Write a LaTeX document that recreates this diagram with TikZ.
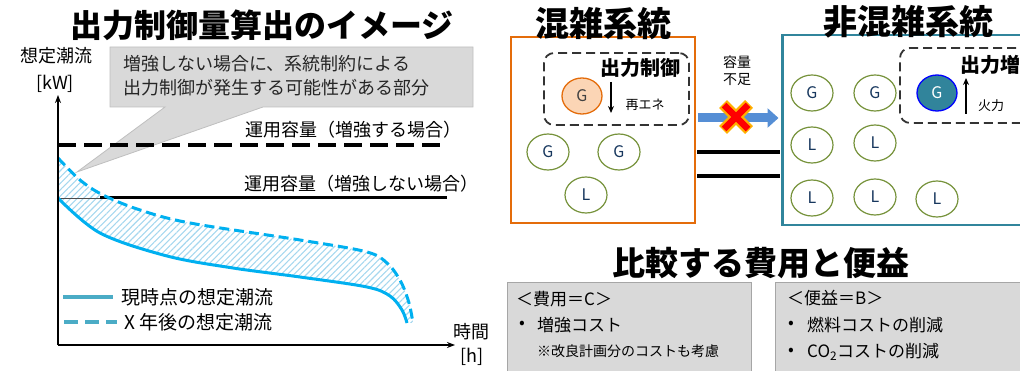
\documentclass[tikz,border=0pt]{standalone}
\usepackage{fontspec}
\setmainfont{Noto Sans CJK JP}
\usetikzlibrary{arrows.meta,patterns.meta,shapes.geometric}
\definecolor{curveblue}{RGB}{0,176,240}
\definecolor{legblue}{RGB}{75,172,198}
\definecolor{hatchblue}{RGB}{165,215,238}
\definecolor{calloutgray}{RGB}{217,217,217}
\definecolor{calloutedge}{RGB}{191,191,191}
\definecolor{orangeedge}{RGB}{228,108,10}
\definecolor{orangefill}{RGB}{251,213,181}
\definecolor{tealedge}{RGB}{49,133,156}
\definecolor{tealfill}{RGB}{49,132,155}
\definecolor{greenedge}{RGB}{119,147,60}
\definecolor{letter}{RGB}{23,55,94}
\definecolor{arrowblue}{RGB}{85,142,213}
\definecolor{boxgray}{RGB}{217,217,217}
\definecolor{boxedge}{RGB}{166,166,166}
\definecolor{glow}{RGB}{255,176,0}
\begin{document}
\begin{tikzpicture}[x=1pt,y=-1pt,
  txt/.style={inner sep=0pt, font=\fontsize{18}{20}\selectfont},
  smalltxt/.style={inner sep=0pt, font=\fontsize{13}{15}\selectfont},
  boxtxt/.style={inner sep=0pt, anchor=west, font=\fontsize{17}{19}\selectfont},
  ttl/.style={inner sep=0pt, font=\fontsize{33}{36}\selectfont\bfseries},
  subttl/.style={inner sep=0pt, font=\fontsize{20}{22}\selectfont\bfseries},
  unit/.style={ellipse, draw=greenedge, line width=1.2pt, fill=white, minimum width=42pt, minimum height=36pt, inner sep=0pt, text=letter, font=\fontsize{16}{16}\selectfont},
  dashbox/.style={draw=black!80, line width=1.8pt, dash pattern=on 9pt off 5pt, rounded corners=10pt},
  vline/.style={line width=1.4pt, -{Stealth[length=8pt,width=6pt]}},
]
\useasboundingbox (0,0) rectangle (1020,371);
\clip (0,0) rectangle (1020,371);

% ---------------- left: image of curtailment ----------------
\node[ttl, font=\fontsize{32}{36}\selectfont\bfseries] (t1) at (262,25) {出力制御量算出のイメージ};

% callout
\coordinate (tip) at (77,172);
\filldraw[fill=calloutgray, draw=calloutedge, line width=0.8pt]
  (110,47) -- (473,47) -- (473,107) -- (263,107) -- (tip) -- (165,107) -- (110,107) -- cycle;
\node[txt, anchor=west, text=black!85] (c1) at (123,64) {増強しない場合に、系統制約による};
\node[txt, anchor=west, text=black!85] (c2) at (123,88) {出力制御が発生する可能性がある部分};

% axis labels
\node[txt] (yl1) at (56,56) {想定潮流};
\node[txt] (yl2) at (55,84) {[kW]};
\node[txt] (xl1) at (471,332) {時間};
\node[txt] (xl2) at (472,357) {[h]};

% hatched region
\fill[pattern={Lines[angle=45,distance=4.5pt,line width=1.1pt]}, pattern color=hatchblue]
  plot[smooth, tension=0.55] coordinates {(58,158) (80,180) (103,195) (140,210) (190,223) (300,240) (367,252) (388,264) (401,282) (409,303) (413,323)}
  -- plot[smooth, tension=0.55] coordinates {(407,323) (402,310) (390,296) (367,287) (300,277) (233,268) (167,256) (100,233) (58,198)}
  -- cycle;

% capacity lines
\draw[line width=4pt, dash pattern=on 18pt off 8pt] (58,145) -- (445,145);
\node[txt] (cap1) at (353,130) {運用容量（増強する場合）};
\draw[black!70, line width=0.8pt] (58,198) -- (100,198);
\draw[line width=3pt] (100,198) -- (447,198);
\node[txt] (cap2) at (361,184) {運用容量（増強しない場合）};

% curves
\draw[curveblue, line width=3pt]
  plot[smooth, tension=0.55] coordinates {(58,198) (100,233) (167,256) (233,268) (300,277) (367,287) (390,296) (402,310) (407,323)};
\draw[curveblue, line width=3pt, dash pattern=on 10pt off 5pt]
  plot[smooth, tension=0.55] coordinates {(58,158) (80,180) (103,195) (140,210) (190,223) (300,240) (367,252) (388,264) (401,282) (409,303) (413,323)};

% axes
\coordinate (O) at (58,345);
\coordinate (ytop) at (58,95);
\coordinate (xend) at (455,345);
\draw[vline] (O) -- (ytop);
\draw[vline] (O) -- (xend);

% legend
\draw[legblue, line width=4pt] (63,297) -- (113,297);
\node[txt, anchor=west, font=\fontsize{19}{21}\selectfont] (lg1) at (121,297) {現時点の想定潮流};
\draw[legblue, line width=4.5pt, dash pattern=on 14pt off 7pt] (64,322) -- (117,322);
\node[txt, anchor=west, font=\fontsize{19}{21}\selectfont] (lg2) at (124,322) {X 年後の想定潮流};

% ---------------- right: systems ----------------
\node (cong) [draw=orangeedge, line width=2.5pt, minimum width=184pt, minimum height=186pt, inner sep=0pt] at (603,130) {};
\node (noncong) [draw=tealedge, line width=2.5pt, minimum width=249pt, minimum height=190pt, inner sep=0pt, anchor=west] at (781,130) {};
\node[ttl, font=\fontsize{34}{36}\selectfont\bfseries] (t2) at (603,24) {混雑系統};
\node[ttl, font=\fontsize{34}{36}\selectfont\bfseries] (t3) at (908,22) {非混雑系統};

% congested: curtailment box
\node (cbox) [dashbox, minimum width=145pt, minimum height=72pt, inner sep=0pt] at (616.5,89) {};
\node[subttl] (cur) at (640,68) {出力制御};
\node (gre) [ellipse, draw=orangeedge, fill=orangefill, line width=1.3pt, minimum width=40pt, minimum height=36pt, inner sep=0pt, text=black!75, font=\fontsize{16}{16}\selectfont] at (582,96) {G};
\coordinate (da1) at (611,82);
\coordinate (da2) at (611,113);
\draw[line width=1.3pt, -{Stealth[length=7pt,width=6pt]}] (da1) -- (da2);
\node[smalltxt] (re) at (645,105) {再エネ};
\node[unit] (g1) at (548,152) {G};
\node[unit] (g2) at (619,152) {G};
\node[unit] (l1) at (586,195) {L};

% non-congested
\draw[dashbox] (1030,48) -- (900,48) -- (900,123) -- (1030,123);
\node[subttl] (inc) at (990,65) {出力増};
\node (gth) [ellipse, draw=blue, fill=tealfill, line width=1.3pt, minimum width=40pt, minimum height=36pt, inner sep=0pt, text=white, font=\fontsize{16}{16}\selectfont] at (937,93) {G};
\coordinate (ua1) at (966,114);
\coordinate (ua2) at (966,78);
\draw[line width=1.3pt, -{Stealth[length=7pt,width=6pt]}] (ua1) -- (ua2);
\node[smalltxt] (fire) at (991,106) {火力};
\node[unit] (g3) at (812,93) {G};
\node[unit] (g4) at (875,93) {G};
\node[unit] (l2) at (812,145) {L};
\node[unit] (l3) at (875,143) {L};
\node[unit] (l4) at (812,198) {L};
\node[unit] (l5) at (875,197) {L};
\node[unit] (l6) at (937,199) {L};

% interconnection
\draw[arrowblue, line width=9pt, -{Triangle[length=11pt,width=19pt]}]
  ([xshift=1.5pt]cong.east |- 0,118) -- ([xshift=-2.5pt]noncong.west |- 0,118);
\draw[line width=3.5pt] ([xshift=1pt]cong.east |- 0,152) -- ([xshift=-1pt]noncong.west |- 0,152);
\draw[line width=3.5pt] ([xshift=1pt]cong.east |- 0,176) -- ([xshift=-1pt]noncong.west |- 0,176);
\node[smalltxt, font=\fontsize{14}{16}\selectfont] (cap3) at (737,62) {容量};
\node[smalltxt, font=\fontsize{14}{16}\selectfont] (cap4) at (737,80) {不足};
\coordinate (X) at (736,117);
\draw[glow, line width=11pt] (X) ++(-13,-13) -- ++(26,26);
\draw[glow, line width=11pt] (X) ++(13,-13) -- ++(-26,26);
\draw[red, line width=6.5pt] (X) ++(-12,-12) -- ++(24,24);
\draw[red, line width=6.5pt] (X) ++(12,-12) -- ++(-24,24);

% ---------------- bottom right: costs & benefits ----------------
\node[ttl] (t4) at (761,263) {比較する費用と便益};
\node (costbox) [draw=boxedge, fill=boxgray, line width=1pt, minimum width=244pt, minimum height=100pt, inner sep=0pt, anchor=north west] at (507,282) {};
\node (benbox) [draw=boxedge, fill=boxgray, line width=1pt, minimum width=255pt, minimum height=100pt, inner sep=0pt, anchor=north west] at (775,282) {};
\node[boxtxt] (ch) at (516,299) {＜費用＝C＞};
\node[boxtxt] (cb) at (519,325) {•};
\node[boxtxt] (c1t) at (537,325) {増強コスト};
\node[boxtxt, font=\fontsize{14}{16}\selectfont] (cnote) at (537,351) {※改良計画分のコストも考慮};
\node[boxtxt] (bh) at (787,298) {＜便益＝B＞};
\node[boxtxt] (bb1) at (788,325) {•};
\node[boxtxt] (b1t) at (807,325) {燃料コストの削減};
\node[boxtxt] (bb2) at (788,352) {•};
\node[boxtxt] (b2t) at (807,352) {CO\textsubscript{2}コストの削減};
\end{tikzpicture}
\end{document}
